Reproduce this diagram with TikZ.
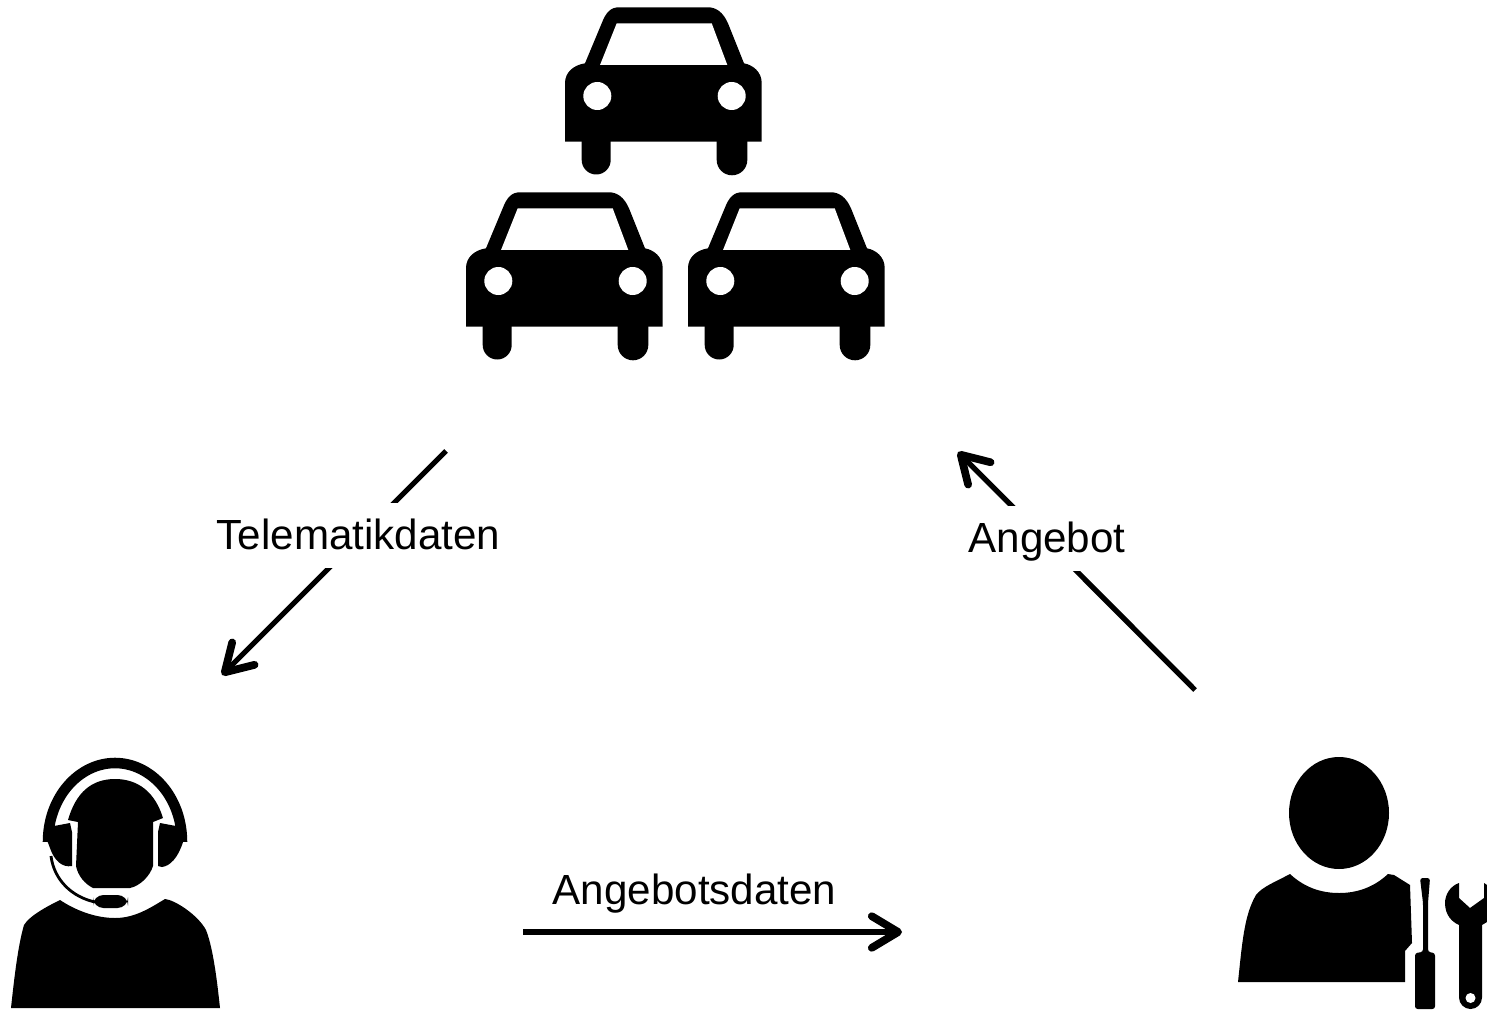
\documentclass[tikz,border=0pt]{standalone}
\usepackage{fontspec}
\setmainfont{Liberation Sans}
\usetikzlibrary{arrows.meta}

\tikzset{
  icon/.style={fill=black,draw=none},
  flow/.style={draw=black,line width=3pt,-{Straight Barb[length=15pt,width=18pt,line width=4.4pt,round]}},
  flowlabel/.style={font=\fontsize{24pt}{28pt}\selectfont,text height=21.6pt,text depth=5pt,inner xsep=0pt,inner ysep=0.19cm},
  gaplabel/.style={flowlabel,fill=white},
  car/.pic={
    \fill[icon] (25,141.7) -- (25,83) .. controls (25,72) and (34,65) .. (45,63.3) -- (61.7,23.3)
      .. controls (66,12) and (71,7.3) .. (79,7.3) -- (168,7.3) .. controls (176,7.3) and (183,12) .. (188,23.3)
      -- (204,63.3) .. controls (213,65) and (221.7,72) .. (221.7,83) -- (221.7,141.7) -- cycle;
    \fill[white] (76.7,23.3) -- (171.7,23.3) -- (187.3,65) -- (60,65) -- cycle;
    \fill[icon] (41.7,141) -- (41.7,160) arc[start angle=180,end angle=0,radius=14.5] -- (70.7,141) -- cycle;
    \fill[icon] (176.7,141) -- (176.7,160) arc[start angle=180,end angle=0,radius=15.3] -- (207.3,141) -- cycle;
    \fill[white] (57.3,96) circle[radius=14];
    \fill[white] (191.7,96) circle[radius=14];
  }
}

\begin{document}
\begin{tikzpicture}[x=0.02cm,y=-0.02cm]
  \useasboundingbox (0,0) rectangle (1487,1010);

  % cars
  \pic at (540,0) {car};
  \pic at (441,185) {car};
  \pic at (663,185) {car};

  % agent with headset
  \draw[line width=6pt] (48,842) .. controls (48,797) and (79,763) .. (115,763) .. controls (151,763) and (182,797) .. (182,842);
  \fill[icon] (68,820) .. controls (76,792) and (92,779) .. (115,779) .. controls (138,779) and (155,792) .. (163,818)
    -- (153,822) -- (153,866) .. controls (150,876) and (140,886) .. (130,888) -- (93,888)
    .. controls (85,884) and (78,876) .. (76,866) -- (78,822) -- cycle;
  \fill[icon] (47,840) -- (54,826) -- (70,823) -- (72,832) -- (72,866) .. controls (62,868) and (54,860) .. (50,848) -- cycle;
  \fill[icon] (183,840) -- (176,826) -- (160,823) -- (158,832) -- (158,866) -- (162,867) .. controls (170,866) and (178,858) .. (183,842) -- cycle;
  \draw[line width=1.6pt] (51,856) .. controls (54,880) and (72,897) .. (95,902);
  \fill[icon,rounded corners=6pt] (93,895) -- (128,895) -- (128,908) -- (93,908) -- cycle;
  \fill[icon] (60,900) .. controls (75,910) and (95,918) .. (115,918) .. controls (135,918) and (150,908) .. (165,899)
    .. controls (175,900) and (198,915) .. (206,930) .. controls (214,950) and (218,990) .. (220,1008) -- (11,1008)
    .. controls (14,980) and (18,945) .. (24,925) .. controls (30,915) and (50,905) .. (60,900) -- cycle;

  % mechanic with tools
  \fill[icon] (1339,813) ellipse[x radius=50,y radius=56];
  \fill[icon] (1290,874) .. controls (1305,888) and (1322,893) .. (1339,893) .. controls (1356,893) and (1373,888) .. (1388,874)
    -- (1394,875) -- (1410,885) -- (1412,943) -- (1405,951) -- (1405,982) -- (1238,982)
    .. controls (1242,945) and (1244,915) .. (1256,895) .. controls (1262,887) and (1275,882) .. (1290,874) -- cycle;
  \fill[icon,rounded corners=1.5pt] (1420,878) -- (1430,878) -- (1428,903) -- (1428,952) -- (1435,953) -- (1435,1009) -- (1415,1009) -- (1415,953) -- (1423,952) -- (1423,903) -- cycle;
  \fill[icon] (1459,883) .. controls (1450,886) and (1445,895) .. (1445,903) .. controls (1445,915) and (1452,922) .. (1459,925)
    -- (1459,997.5) arc[start angle=180,end angle=0,radius=11.5] -- (1482,925)
    -- (1487,922) -- (1487,885) -- (1484,883) -- (1484,898) -- (1470,908) -- (1459,898) -- cycle;
  \fill[white] (1470.5,998) circle[radius=5];

  % connectors
  \coordinate (carsout) at (446,451);
  \coordinate (agentin) at (222,675);
  \coordinate (mechout) at (1195,690);
  \coordinate (carsin) at (958,452);
  \coordinate (agentout) at (523,932);
  \coordinate (mechin) at (902,932);

  \draw[flow] (carsout) -- (agentin);
  \draw[flow] (mechout) -- (carsin);
  \draw[flow] (agentout) -- (mechin);

  \node[gaplabel] (telematik) at (358.5,535.4) {Telematikdaten};
  \node[gaplabel] (angebot) at (1047,538.4) {Angebot};
  \node[flowlabel] (angebotsdaten) at (694.5,890.4) {Angebotsdaten};
\end{tikzpicture}
\end{document}
